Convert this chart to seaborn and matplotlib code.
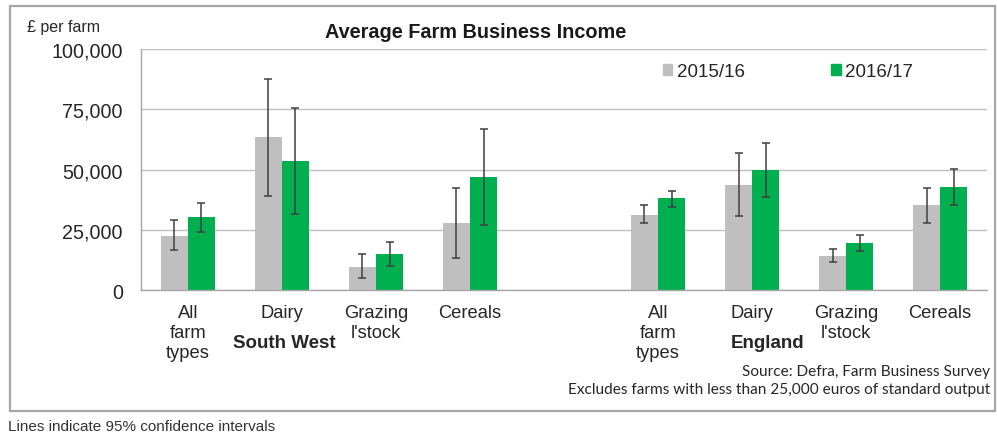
import matplotlib

matplotlib.use("Agg")
import matplotlib.pyplot as plt
import matplotlib.ticker as mticker
import numpy as np
import pandas as pd
import seaborn as sns
from matplotlib.patches import Rectangle

# values (£ per farm)
categories = ["All\nfarm\ntypes", "Dairy", "Grazing\nl'stock", "Cereals"]
regions = ["South West", "England"]
years = ["2015/16", "2016/17"]

sw_1516 = [22400, 63300, 9700, 28000]
sw_1516_lo = [16600, 39000, 5100, 13200]
sw_1516_hi = [29100, 87500, 15100, 42500]
sw_1617 = [30500, 53600, 14800, 46700]
sw_1617_lo = [24100, 31700, 10000, 26900]
sw_1617_hi = [36000, 75700, 20100, 66700]

en_1516 = [31100, 43500, 14100, 35200]
en_1516_lo = [27600, 30700, 11600, 28000]
en_1516_hi = [35200, 56800, 16900, 42200]
en_1617 = [38000, 49800, 19400, 42800]
en_1617_lo = [34500, 38800, 16200, 35200]
en_1617_hi = [41100, 60900, 22700, 50400]

y_ticks = [0, 25000, 50000, 75000, 100000]

GREY = "#BFBFBF"
GREEN = "#00B050"
ARIAL = ["Liberation Sans", "DejaVu Sans"]


def build_frame() -> pd.DataFrame:
    series = {
        ("South West", "2015/16"): (sw_1516, sw_1516_lo, sw_1516_hi),
        ("South West", "2016/17"): (sw_1617, sw_1617_lo, sw_1617_hi),
        ("England", "2015/16"): (en_1516, en_1516_lo, en_1516_hi),
        ("England", "2016/17"): (en_1617, en_1617_lo, en_1617_hi),
    }
    rows = []
    for (region, year), (vals, lows, highs) in series.items():
        for cat, v, lo, hi in zip(categories, vals, lows, highs):
            rows.append(
                {"slot": f"{region}|{cat}", "region": region, "category": cat,
                 "year": year, "income": v, "lo": lo, "hi": hi}
            )
    return pd.DataFrame(rows)


df = build_frame()
order = [f"South West|{c}" for c in categories] + ["gap"] + [f"England|{c}" for c in categories]
tick_labels = categories + [""] + categories

sns.set_style("white")
plt.rcParams["font.family"] = ARIAL

fig = plt.figure(figsize=(9.97, 4.39), dpi=100)
ax = fig.add_axes([0.1414, 0.3371, 0.8486, 0.5490])

sns.barplot(
    data=df, x="slot", y="income", hue="year", order=order, hue_order=years,
    palette=[GREY, GREEN], width=0.575, errorbar=None, linewidth=0,
    saturation=1, ax=ax,
)

# asymmetric 95% confidence intervals on each bar
for year, container in zip(years, ax.containers):
    sub = df[df["year"] == year].set_index("slot")
    for bar in container:
        cx = bar.get_x() + bar.get_width() / 2
        slot = order[int(round(cx))]
        if slot not in sub.index:
            continue
        row = sub.loc[slot]
        ax.errorbar(
            cx, row["income"],
            yerr=[[row["income"] - row["lo"]], [row["hi"] - row["income"]]],
            fmt="none", ecolor="#404040", elinewidth=1.1, capsize=3, capthick=1.1,
            zorder=4,
        )

ax.get_legend().remove()
handles = [Rectangle((0, 0), 1, 1, color=c) for c in (GREY, GREEN)]
fig.legend(
    handles, years, loc="center left", bbox_to_anchor=(0.648, 0.834), ncol=2,
    frameon=False, fontsize=13.5, handlelength=0.5, handleheight=0.5,
    handletextpad=0.25, columnspacing=4.6,
)

ax.set_xlim(-0.5, len(order) - 0.5)
ax.set_ylim(0, 100000)
ax.set_yticks(y_ticks)
ax.yaxis.set_major_formatter(mticker.StrMethodFormatter("{x:,.0f}"))
ax.set_xticks(range(len(order)))
ax.set_xticklabels(tick_labels)
ax.xaxis.set_minor_locator(mticker.FixedLocator(np.arange(-0.5, len(order), 1.0)))
ax.tick_params(axis="x", which="major", length=0, pad=10, labelsize=13.2, colors="#262626")
ax.tick_params(axis="x", which="minor", length=4, color="#A6A6A6", width=1)
ax.tick_params(axis="y", length=4, color="#A6A6A6", pad=9, labelsize=14.2, colors="#262626")
for lbl in ax.get_xticklabels():
    lbl.set_linespacing(1.25)
ax.set_xlabel("")
ax.set_ylabel("")
ax.yaxis.grid(True, color="#BFBFBF", linewidth=1)
ax.set_axisbelow(True)
for side in ("top", "right"):
    ax.spines[side].set_visible(False)
for side in ("left", "bottom"):
    ax.spines[side].set_color("#A6A6A6")
    ax.spines[side].set_linewidth(1)

# region labels under each group
ax.text(1.03, -0.218, "South West", transform=ax.get_xaxis_transform(), ha="center",
        va="center", fontsize=13.5, fontweight="bold", color="#262626")
ax.text(6.17, -0.218, "England", transform=ax.get_xaxis_transform(), ha="center",
        va="center", fontsize=13.5, fontweight="bold", color="#262626")

fig.text(0.477, 0.927, "Average Farm Business Income", ha="center", va="center",
         fontsize=14.3, fontweight="bold", color="#1a1a1a")
fig.text(0.027, 0.938, "£ per farm", ha="left", va="center", fontsize=11.5, color="#262626")
fig.text(0.993, 0.153, "Source: Defra, Farm Business Survey", ha="right", va="center",
         fontsize=11.1, color="#262626", family=["Lato", "DejaVu Sans"])
fig.text(0.993, 0.112, "Excludes farms with less than 25,000 euros of standard output",
         ha="right", va="center", fontsize=11.1, color="#262626", family=["Lato", "DejaVu Sans"])
fig.text(0.008, 0.027, "Lines indicate 95% confidence intervals", ha="left", va="center",
         fontsize=11, color="#333333")

# outer chart frame
fig.patches.append(Rectangle((0.010, 0.061), 0.988, 0.923, transform=fig.transFigure,
                             fill=False, edgecolor="#A6A6A6", linewidth=1.6, zorder=0))

fig.savefig("out.png", dpi=100)
